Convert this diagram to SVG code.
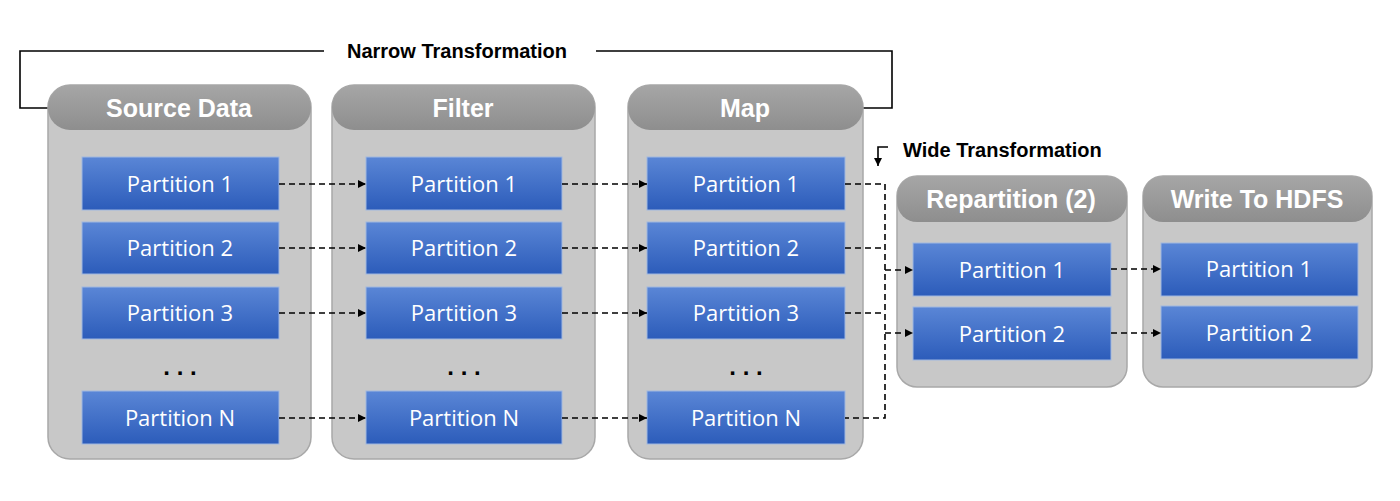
<svg xmlns="http://www.w3.org/2000/svg" width="1400" height="501" viewBox="0 0 1400 501">
<style>
.col{fill:#c8c8c8;stroke:#a8a8a8;stroke-width:1.5}
.hd{fill:#999}
.ht{font-family:"Liberation Sans",Arial,sans-serif;font-weight:bold;font-size:25px;fill:#fff;text-anchor:middle}
.p{fill:url(#bg);stroke:#9fb7e0;stroke-width:1}
.pt{font-family:"Open Sans","DejaVu Sans",sans-serif;font-size:22px;fill:#fff;text-anchor:middle}
.dots{font-family:"Liberation Sans",sans-serif;font-size:24px;fill:#000;text-anchor:middle;font-weight:bold}
.lb{font-family:"Liberation Sans",Arial,sans-serif;font-weight:bold;font-size:20px;fill:#000}
.d{stroke:#000;stroke-width:1.6;stroke-dasharray:6,4;fill:none}
.s{stroke:#000;stroke-width:1.6;fill:none}
</style>
<defs>
<linearGradient id="bg" x1="0" y1="0" x2="0" y2="1"><stop offset="0" stop-color="#5a86d6"/><stop offset="1" stop-color="#2c5cba"/></linearGradient>
<linearGradient id="hg" x1="0" y1="0" x2="0" y2="1"><stop offset="0" stop-color="#a6a6a6"/><stop offset="1" stop-color="#8e8e8e"/></linearGradient>
<marker id="a" viewBox="0 0 10 10" refX="10" refY="5" markerWidth="8" markerHeight="8" orient="auto" markerUnits="userSpaceOnUse"><path d="M0,0L10,5L0,10z" fill="#000"/></marker>
<clipPath id="c1"><rect x="48" y="85" width="263" height="374" rx="22"/></clipPath>
<clipPath id="c2"><rect x="332" y="85" width="263" height="374" rx="22"/></clipPath>
<clipPath id="c3"><rect x="628" y="85" width="235" height="374" rx="22"/></clipPath>
<clipPath id="c4"><rect x="897" y="176" width="230" height="211" rx="20"/></clipPath>
<clipPath id="c5"><rect x="1143" y="176" width="229" height="211" rx="20"/></clipPath>
</defs>
<rect width="1400" height="501" fill="#fff"/>
<g id="labels">
<path class="s" d="M48,108H20V51H324M596,51H892V108H863"/>
<text class="lb" x="457" y="58" text-anchor="middle">Narrow Transformation</text>
<path class="s" d="M888,147H878V166" marker-end="url(#a)"/>
<text class="lb" x="903" y="157">Wide Transformation</text>
</g>
<g id="source">
<rect class="col" x="48" y="85" width="263" height="374" rx="22"/>
<rect x="48" y="85" width="263" height="45" rx="22" fill="url(#hg)" clip-path="url(#c1)"/>
<text class="ht" x="179" y="117">Source Data</text>
<rect class="p" x="82" y="157" width="197" height="53"/><text class="pt" x="180" y="192">Partition 1</text>
<rect class="p" x="82" y="222" width="197" height="52"/><text class="pt" x="180" y="256">Partition 2</text>
<rect class="p" x="82" y="287" width="197" height="52"/><text class="pt" x="180" y="321">Partition 3</text>
<text class="dots" x="180" y="375">. . .</text>
<rect class="p" x="82" y="391" width="197" height="53"/><text class="pt" x="180" y="426">Partition N</text>
</g>
<g id="filter">
<rect class="col" x="332" y="85" width="263" height="374" rx="22"/>
<rect x="332" y="85" width="263" height="45" rx="22" fill="url(#hg)" clip-path="url(#c2)"/>
<text class="ht" x="463" y="117">Filter</text>
<rect class="p" x="366" y="157" width="196" height="53"/><text class="pt" x="464" y="192">Partition 1</text>
<rect class="p" x="366" y="222" width="196" height="52"/><text class="pt" x="464" y="256">Partition 2</text>
<rect class="p" x="366" y="287" width="196" height="52"/><text class="pt" x="464" y="321">Partition 3</text>
<text class="dots" x="464" y="375">. . .</text>
<rect class="p" x="366" y="391" width="196" height="53"/><text class="pt" x="464" y="426">Partition N</text>
</g>
<g id="map">
<rect class="col" x="628" y="85" width="235" height="374" rx="22"/>
<rect x="628" y="85" width="235" height="45" rx="22" fill="url(#hg)" clip-path="url(#c3)"/>
<text class="ht" x="745" y="117">Map</text>
<rect class="p" x="647" y="157" width="198" height="53"/><text class="pt" x="746" y="192">Partition 1</text>
<rect class="p" x="647" y="222" width="198" height="52"/><text class="pt" x="746" y="256">Partition 2</text>
<rect class="p" x="647" y="287" width="198" height="52"/><text class="pt" x="746" y="321">Partition 3</text>
<text class="dots" x="746" y="375">. . .</text>
<rect class="p" x="647" y="391" width="198" height="53"/><text class="pt" x="746" y="426">Partition N</text>
</g>
<g id="repartition">
<rect class="col" x="897" y="176" width="230" height="211" rx="20"/>
<rect x="897" y="176" width="230" height="46" rx="20" fill="url(#hg)" clip-path="url(#c4)"/>
<text class="ht" x="1011" y="208">Repartition (2)</text>
<rect class="p" x="913" y="243" width="198" height="53"/><text class="pt" x="1012" y="278">Partition 1</text>
<rect class="p" x="913" y="307" width="198" height="53"/><text class="pt" x="1012" y="342">Partition 2</text>
</g>
<g id="hdfs">
<rect class="col" x="1143" y="176" width="229" height="211" rx="20"/>
<rect x="1143" y="176" width="229" height="46" rx="20" fill="url(#hg)" clip-path="url(#c5)"/>
<text class="ht" x="1257" y="208">Write To HDFS</text>
<rect class="p" x="1161" y="243" width="197" height="53"/><text class="pt" x="1259" y="277">Partition 1</text>
<rect class="p" x="1161" y="306" width="197" height="53"/><text class="pt" x="1259" y="341">Partition 2</text>
</g>
<g id="connectors">
<path class="d" d="M279,184H366" marker-end="url(#a)"/>
<path class="d" d="M279,248H366" marker-end="url(#a)"/>
<path class="d" d="M279,313H366" marker-end="url(#a)"/>
<path class="d" d="M279,418H366" marker-end="url(#a)"/>
<path class="d" d="M562,184H647" marker-end="url(#a)"/>
<path class="d" d="M562,248H647" marker-end="url(#a)"/>
<path class="d" d="M562,313H647" marker-end="url(#a)"/>
<path class="d" d="M562,418H647" marker-end="url(#a)"/>
<path class="d" d="M845,184H885V418H845M845,248H885M845,313H885"/>
<path class="d" d="M885,270H913" marker-end="url(#a)"/>
<path class="d" d="M885,333H913" marker-end="url(#a)"/>
<path class="d" d="M1111,269H1161" marker-end="url(#a)"/>
<path class="d" d="M1111,333H1161" marker-end="url(#a)"/>
</g>
</svg>
